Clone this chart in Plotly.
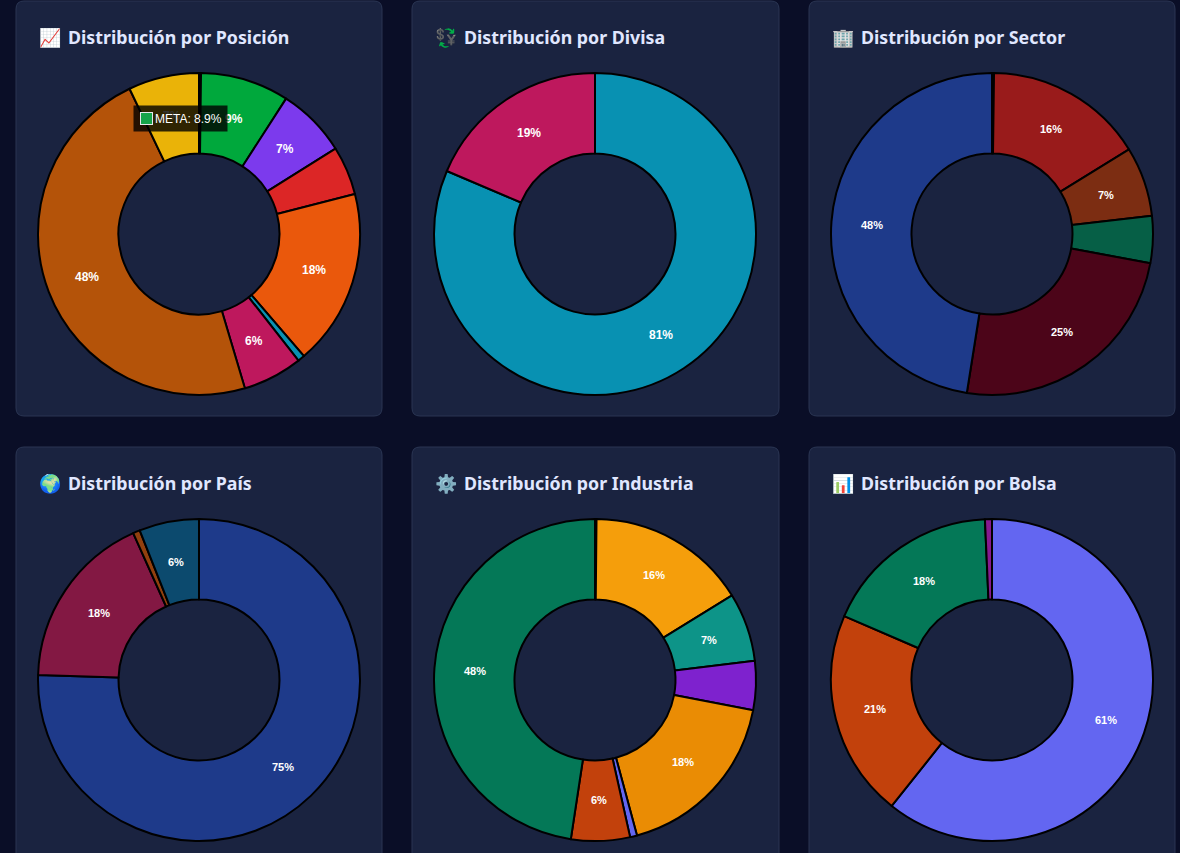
import math
import plotly.graph_objects as go

W, H = 1180, 853

# data, clockwise from 12 o'clock
# the first slice of Posición, Sector and Industria is a sliver that only shows as a thicker line
pos_labels = ["Posición 0", "META", "Posición 2", "Posición 3", "Posición 4", "Posición 5", "Posición 6", "Posición 7", "Posición 8"]
pos_values = [0.2, 8.9, 7.0, 4.9, 17.7, 0.7, 6.0, 47.5, 7.1]
pos_text = ["", "9%", "7%", "", "18%", "", "6%", "48%", "7%"]
pos_colors = ["#000000", "#00a83c", "#7c3aed", "#dc2626", "#ea580c", "#0891b2", "#be185d", "#b45309", "#eab308"]

div_labels = ["Divisa 1", "Divisa 2"]
div_values = [81.4, 18.6]
div_text = ["81%", "19%"]
div_colors = ["#0891b2", "#be185d"]

sec_labels = ["Sector 0", "Sector 1", "Sector 2", "Sector 3", "Sector 4", "Sector 5"]
sec_values = [0.2, 16.0, 7.0, 4.7, 24.6, 47.5]
sec_text = ["", "16%", "7%", "", "25%", "48%"]
sec_colors = ["#000000", "#991b1b", "#7c2d12", "#065f46", "#4c0519", "#1e3a8a"]

pais_labels = ["País 1", "País 2", "País 3", "País 4"]
pais_values = [75.5, 17.8, 0.7, 6.0]
pais_text = ["75%", "18%", "", "6%"]
pais_colors = ["#1e3a8a", "#831843", "#92400e", "#0c4a6e"]

ind_labels = ["Industria 0", "Industria 1", "Industria 2", "Industria 3", "Industria 4", "Industria 5", "Industria 6", "Industria 7"]
ind_values = [0.15, 16.05, 6.9, 4.9, 17.8, 0.7, 5.9, 47.6]
ind_text = ["", "16%", "7%", "", "18%", "", "6%", "48%"]
ind_colors = ["#000000", "#f59e0b", "#0d9488", "#7e22ce", "#ea8c04", "#6366f1", "#c2410c", "#047857"]

bol_labels = ["Bolsa 1", "Bolsa 2", "Bolsa 3", "Bolsa 4"]
bol_values = [60.7, 20.8, 17.8, 0.7]
bol_text = ["61%", "21%", "18%", ""]
bol_colors = ["#6366f1", "#c2410c", "#047857", "#86198f"]

titles = ["📈", "💱", "🏢", "🌍", "⚙️", "📊"]
names = ["Distribución por Posición", "Distribución por Divisa", "Distribución por Sector",
         "Distribución por País", "Distribución por Industria", "Distribución por Bolsa"]
charts = [(pos_labels, pos_values, pos_text, pos_colors),
          (div_labels, div_values, div_text, div_colors),
          (sec_labels, sec_values, sec_text, sec_colors),
          (pais_labels, pais_values, pais_text, pais_colors),
          (ind_labels, ind_values, ind_text, ind_colors),
          (bol_labels, bol_values, bol_text, bol_colors)]
label_sizes = [12, 12, 11, 11, 11, 11]

# layout in pixels
centers = [(199, 234), (595, 234), (992, 234), (199, 680), (595, 680), (992, 680)]
cards = [(16, 1, 382, 416), (412, 1, 779, 416), (809, 1, 1175, 416),
         (16, 447, 382, 880), (412, 447, 779, 880), (809, 447, 1175, 880)]
radius = 161
label_radius = 120.5


def fx(px):
    return px / W


def fy(px):
    return 1 - px / H


def card_path(x0, y0, x1, y1, r=8):
    return (f"M{x0 + r},{y0} L{x1 - r},{y0} Q{x1},{y0} {x1},{y0 + r} L{x1},{y1 - r} Q{x1},{y1} {x1 - r},{y1} "
            f"L{x0 + r},{y1} Q{x0},{y1} {x0},{y1 - r} L{x0},{y0 + r} Q{x0},{y0} {x0 + r},{y0} Z")


fig = go.Figure()
annotations = []
shapes = []

for i, (labels, values, text, colors) in enumerate(charts):
    cx, cy = centers[i]
    fig.add_trace(go.Pie(
        labels=labels, values=values, textinfo="none",
        hole=0.5, sort=False, direction="clockwise", rotation=0,
        marker=dict(colors=colors, line=dict(color="#000000", width=2)),
        domain=dict(x=[fx(cx - radius), fx(cx + radius)], y=[fy(cy + radius), fy(cy - radius)]),
        showlegend=False,
    ))
    x0, y0, x1, y1 = cards[i]
    shapes.append(dict(type="path", path=card_path(x0, y0, x1, y1), xref="x", yref="y", layer="below",
                       fillcolor="#1a2340", line=dict(color="#2a3553", width=1)))
    annotations.append(dict(x=fx(x0 + 21), y=fy(y0 + 36), xref="paper", yref="paper", xanchor="left", yanchor="middle",
                            text=titles[i], showarrow=False, font=dict(family="Noto Sans", size=18, color="#e0e7ff")))
    annotations.append(dict(x=fx(x0 + 50), y=fy(y0 + 36), xref="paper", yref="paper", xanchor="left", yanchor="middle",
                            text=f"<b>{names[i]}</b>", showarrow=False,
                            font=dict(family="Noto Sans", size=17.8, color="#e0e7ff")))
    # slice labels sit at the middle of each ring segment
    total = sum(values)
    done = 0
    for v, t in zip(values, text):
        mid = (done + v / 2) / total * 2 * math.pi
        done += v
        if t:
            annotations.append(dict(x=fx(cx + label_radius * math.sin(mid)), y=fy(cy - label_radius * math.cos(mid)),
                                    xref="paper", yref="paper", xanchor="center", yanchor="middle", text=f"<b>{t}</b>",
                                    showarrow=False,
                                    font=dict(family="Liberation Sans", size=label_sizes[i], color="white")))

# tooltip sitting on the first chart
annotations.append(dict(x=fx(180.5), y=fy(118.5), xref="paper", yref="paper", xanchor="center", yanchor="middle",
                        text=" ", showarrow=False, width=93, height=25, borderpad=0, bgcolor="rgba(0,0,0,0.8)",
                        font=dict(size=6)))
annotations.append(dict(x=fx(146.5), y=fy(118.5), xref="paper", yref="paper", xanchor="center", yanchor="middle",
                        text=" ", showarrow=False, width=11, height=11, bgcolor="#16a34a",
                        bordercolor="#e5e7eb", borderwidth=1, borderpad=0, font=dict(size=6)))
annotations.append(dict(x=fx(153), y=fy(118.5), xref="paper", yref="paper", xanchor="left", yanchor="middle",
                        text="META: 8.9%", showarrow=False,
                        font=dict(family="Liberation Sans", size=12, color="white")))

fig.update_layout(
    width=W, height=H, margin=dict(l=0, r=0, t=0, b=0),
    paper_bgcolor="#0a0e27", plot_bgcolor="#0a0e27",
    xaxis=dict(range=[0, W], visible=False, fixedrange=True),
    yaxis=dict(range=[H, 0], visible=False, fixedrange=True),
    shapes=shapes, annotations=annotations,
)
fig.write_html("out.html", config=dict(displayModeBar=False),
               post_script="document.body.style.margin='0';document.body.style.overflow='hidden';")
